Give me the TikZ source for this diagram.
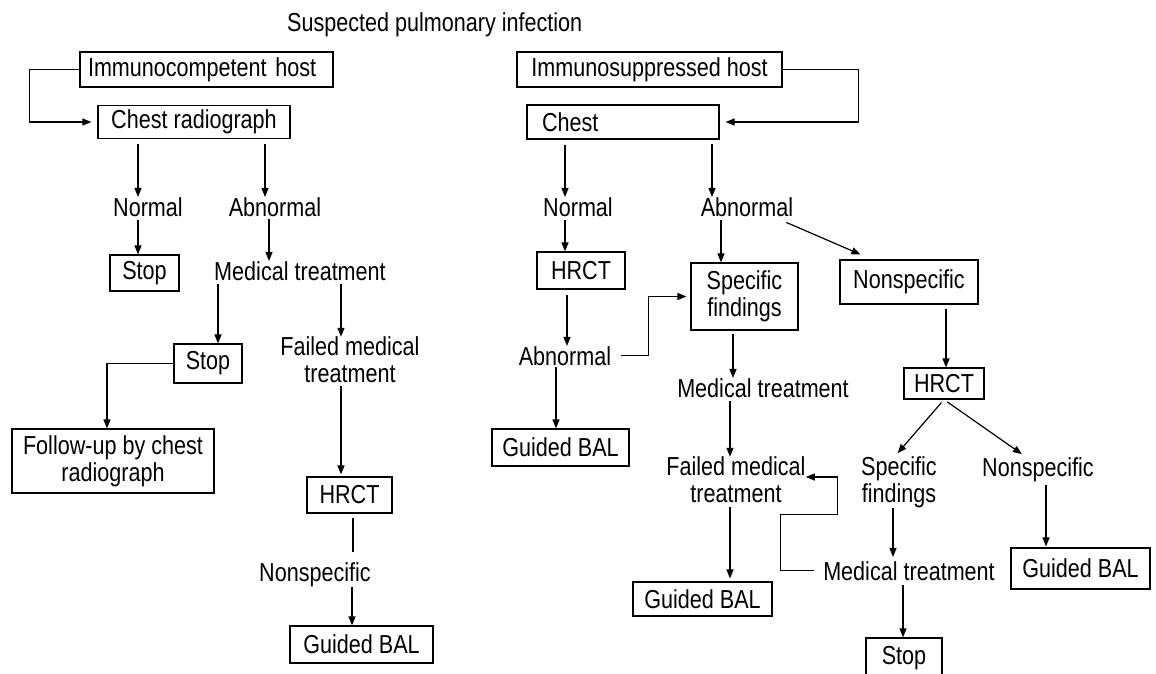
\documentclass[tikz,border=0pt]{standalone}
\usepackage{fontspec}
\setmainfont{Liberation Sans}[FakeStretch=0.83]
\usetikzlibrary{arrows.meta}
\begin{document}
\begin{tikzpicture}[x=1pt,y=-1pt,
  every node/.style={font=\fontsize{26}{27}\selectfont},
  bx/.style={draw, line width=1.2pt, inner sep=0pt, align=center},
  tx/.style={inner sep=0pt},
  ar/.style={-{Triangle[length=9pt,width=7pt]}, line width=1.2pt},
  ln/.style={line width=1.2pt}]
\useasboundingbox (0,0) rectangle (1156,673);
\clip (0,0) rectangle (1156,673);
\node[tx, anchor=base west] (title) at (287,31) {Suspected pulmonary infection};
% left column
\node[bx, text width=237pt, align=left, inner xsep=8pt, minimum height=35pt] (ich) at (206.5,69.5) {Immunocompetent host};
\node[bx, minimum width=192pt, minimum height=33pt] (crad) at (194,122) {Chest radiograph};
\node[tx, anchor=base] (nor1) at (148,216) {Normal};
\node[bx, minimum width=69pt, minimum height=36pt] (stop1) at (144.5,273) {Stop};
\node[tx, anchor=base] (abn1) at (275,216) {Abnormal};
\node[tx, anchor=base] (med1) at (300,280) {Medical treatment};
\node[bx, minimum width=68pt, minimum height=39pt] (stop2) at (208,363.5) {Stop};
\node[tx, align=center] (fail1) at (350,360) {Failed medical\\treatment};
\node[bx, minimum width=202pt, minimum height=64pt] (follow) at (113,461) {Follow-up by chest\\radiograph};
\node[bx, minimum width=85pt, minimum height=36pt] (hrct1) at (349.5,495) {HRCT};
\node[tx, anchor=base] (nsp1) at (315,581) {Nonspecific};
\node[bx, minimum width=143pt, minimum height=37pt] (gbal1) at (361.5,644.5) {Guided BAL};
% right part
\node[bx, minimum width=265pt, minimum height=35pt] (ish) at (649.5,69.5) {Immunosuppressed host};
\node[bx, text width=162pt, align=left, inner xsep=15pt, minimum height=34pt] (chest) at (623,122) {Chest};
\node[tx, anchor=base] (nor2) at (578,216) {Normal};
\node[bx, minimum width=88pt, minimum height=37pt] (hrct2) at (581,270.5) {HRCT};
\node[tx, anchor=base] (abn3) at (565,365) {Abnormal};
\node[bx, minimum width=137pt, minimum height=37pt] (gbal4) at (560.5,447.5) {Guided BAL};
\node[tx, anchor=base] (abn2) at (747,216) {Abnormal};
\node[bx, minimum width=107pt, minimum height=67pt] (spf) at (744.5,296.5) {Specific\\findings};
\node[tx, anchor=base] (med2) at (763,397) {Medical treatment};
\node[tx, align=center] (fail2) at (736,480) {Failed medical\\treatment};
\node[bx, minimum width=139pt, minimum height=34pt] (gbal2) at (702.5,599) {Guided BAL};
\node[bx, minimum width=138pt, minimum height=44pt] (nspb) at (909,282) {Nonspecific};
\node[bx, minimum width=80pt, minimum height=31pt] (hrct3) at (944,383.5) {HRCT};
\node[tx, align=center] (spf2) at (899,482) {Specific\\findings};
\node[tx, anchor=base] (nsp2) at (1038,476) {Nonspecific};
\node[bx, minimum width=139pt, minimum height=41pt] (gbal3) at (1080.5,568.5) {Guided BAL};
\node[tx, anchor=base] (med3) at (909,580) {Medical treatment};
\node[bx, minimum width=76pt, minimum height=40pt] (stop3) at (904,658) {Stop};
% left connectors
\draw[ar, shorten >=6pt] (ich.west) -- ++(-50,0) |- (crad.west);
\draw[ar, shorten <=5pt] (crad.south -| 138,0) -- (nor1.north -| 138,0);
\draw[ar, shorten <=4pt] (nor1.south -| 138,0) -- (stop1.north -| 138,0);
\draw[ar, shorten <=5pt] (crad.south -| 265,0) -- (abn1.north -| 265,0);
\draw[ar, shorten <=3pt] (abn1.south -| 269,0) -- (med1.north -| 269,0);
\draw[ar, shorten <=4pt] (med1.south -| 218,0) -- (stop2.north -| 218,0);
\draw[ar, shorten <=4pt] (med1.south -| 341,0) -- (fail1.north -| 341,0);
\draw[ar] (stop2.west) -| ([xshift=-6pt]follow.north);
\draw[ar, shorten <=3pt, shorten >=2pt] (fail1.south -| 341,0) -- (hrct1.north -| 341,0);
\draw[ln, shorten <=4pt, shorten >=10pt] (hrct1.south -| 353,0) -- (nsp1.north -| 353,0);
\draw[ar] (nsp1.south -| 352,0) -- (gbal1.north -| 352,0);
% right connectors
\draw[ar, shorten >=6pt] (ish.east) -- ++(76,0) |- (chest.east);
\draw[ar, shorten <=5pt] (chest.south -| 565,0) -- (nor2.north -| 565,0);
\draw[ar, shorten <=4pt] (nor2.south -| 565,0) -- (hrct2.north -| 565,0);
\draw[ar, shorten <=4pt] (chest.south -| 712,0) -- (abn2.north -| 712,0);
\draw[ar, shorten <=4pt] (abn2.south -| 721,0) -- (spf.north -| 721,0);
\draw[ar] ([xshift=-7pt,yshift=-6pt]abn2.south east) -- ([xshift=21pt,yshift=5pt]nspb.north west);
\draw[ar, shorten <=5pt] (hrct2.south -| 567,0) -- (abn3.north -| 567,0);
\draw[ar, shorten <=10pt, shorten >=4pt] (abn3.east) -- ++(37,0) |- (spf.west);
\draw[ar, shorten <=2pt] (abn3.south -| 556,0) -- (gbal4.north -| 556,0);
\draw[ar, shorten <=3pt] (spf.south -| 733,0) -- (med2.north -| 733,0);
\draw[ar, shorten <=4pt] (med2.south -| 730,0) -- (fail2.north -| 730,0);
\draw[ar, shorten <=4pt, shorten >=3pt] (fail2.south -| 730,0) -- (gbal2.north -| 730,0);
\draw[ar, shorten <=4pt] (nspb.south -| 946,0) -- (hrct3.north -| 946,0);
\draw[ar, shorten <=4pt, shorten >=4pt] (hrct3.south) -- ([xshift=-4pt]spf2.north);
\draw[ar, shorten <=4pt, shorten >=5pt] (hrct3.south) -- ([xshift=-12pt]nsp2.north);
\draw[ar, shorten <=3pt, shorten >=1pt] (nsp2.south -| 1046,0) -- (gbal3.north -| 1046,0);
\draw[ar, shorten >=4pt] (spf2.south -| 893,0) -- (med3.north -| 893,0);
\draw[ar, shorten <=5pt] (med3.south -| 903,0) -- (stop3.north -| 903,0);
\draw[ar, shorten <=9pt] (med3.west) -- ++(-42.5,0) |- ++(57,-56.5) |- ([yshift=3pt]fail2.east);
\end{tikzpicture}
\end{document}
